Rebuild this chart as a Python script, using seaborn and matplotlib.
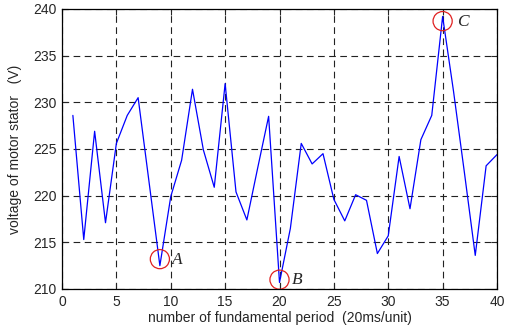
"""
    Tensión del estator por periodo fundamental
"""
import pandas as pd
import matplotlib
matplotlib.use('Agg')
import matplotlib.pyplot as plt
import seaborn as sns

# Datos
periodo = list(range(1, 41))
tension = [228.6, 215.3, 226.9, 217.1, 225.6, 228.6, 230.5, 221.5, 212.5, 219.9,
           223.8, 231.4, 224.9, 220.9, 232.0, 220.4, 217.4, 223.0, 228.5, 210.7,
           216.5, 225.6, 223.4, 224.5, 219.6, 217.3, 220.1, 219.5, 213.8, 215.7,
           224.2, 218.6, 226.0, 228.6, 239.2, 231.2, 222.5, 213.6, 223.2, 224.4]

# Puntos marcados
marca_x = [9, 20, 35]
marca_y = [213.2, 211.0, 238.7]
marca_txt = ['A', 'B', 'C']
texto_x = [10.1, 21.1, 36.3]
texto_y = [213.1, 211.0, 238.6]

df = pd.DataFrame({'periodo': periodo, 'tension': tension})

sns.set_style('white')
plt.rcParams['font.family'] = ['Liberation Sans', 'DejaVu Sans']

fig = plt.figure(figsize=(5.05, 3.35), dpi=100)
ax = fig.add_axes([62 / 505, 1 - 289 / 335, 435 / 505, 280 / 335])

sns.lineplot(x='periodo', y='tension', data=df, color='#0000ff', linewidth=0.9, ax=ax)

ax.scatter(marca_x, marca_y, s=190, facecolors='none', edgecolors='#e02020', linewidths=0.9, zorder=4)
for tx, ty, t in zip(texto_x, texto_y, marca_txt):
    ax.text(tx, ty, t, fontsize=12.5, style='italic', family='Liberation Serif',
            va='center', ha='left')

ax.set_xlim(0, 40)
ax.set_ylim(210, 240)
ax.set_xticks(range(0, 41, 5))
ax.set_yticks(range(210, 241, 5))
ax.grid(True, color='#222222', linestyle=(0, (6, 4)), linewidth=0.8)
ax.tick_params(direction='in', length=4, width=0.8, labelsize=10, top=True, right=True,
               bottom=True, left=True)
ax.tick_params(axis='x', pad=4)
ax.tick_params(axis='y', pad=4)
for s in ax.spines.values():
    s.set_color('black')
    s.set_linewidth(0.9)

ax.set_xlabel('number of fundamental period  (20ms/unit)', fontsize=10, labelpad=2)
ax.set_ylabel('voltage of motor stator   (V)', fontsize=10, labelpad=8)

fig.savefig('out.png', dpi=100)
